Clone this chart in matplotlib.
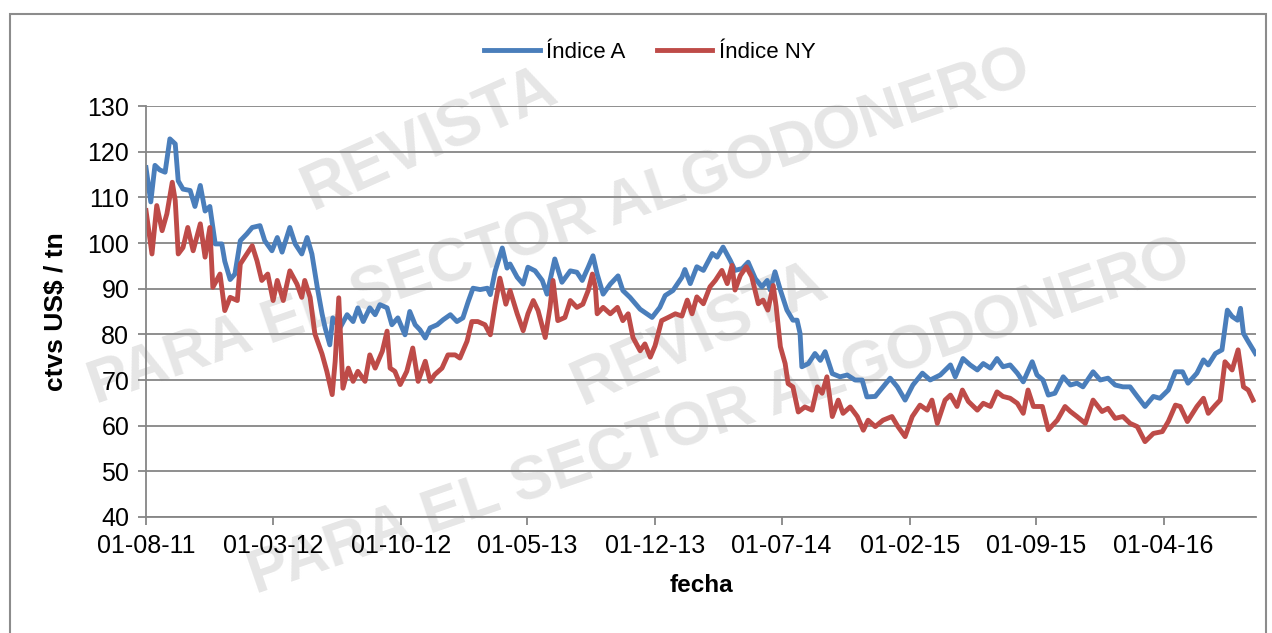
import numpy as np
import pandas as pd
import matplotlib
matplotlib.use('Agg')
from matplotlib import pyplot as plt
import matplotlib.dates as mdates
from matplotlib.patches import Rectangle

# dias desde 01-08-2011 y valores (ctvs US$ / tn)
dias_a = [0, 8, 15, 23, 32, 40, 49, 54, 62, 74, 82, 91, 99, 107, 116, 127, 132, 141, 149, 158,
          169, 178, 191, 199, 211, 220, 228, 241, 250, 261, 270, 278, 287, 295, 300, 308, 313, 325,
          337, 347, 355, 364, 375, 384, 392, 404, 412, 422, 434, 442, 451, 459, 468, 476, 488, 498,
          510, 521, 531, 540, 548, 560, 572, 577, 585, 597, 605, 610, 622, 632, 640, 652, 664, 672,
          685, 697, 711, 722, 731, 741, 749, 756, 766, 778, 791, 799, 811, 828, 848, 861, 870, 883,
          898, 903, 912, 923, 934, 949, 957, 967, 979, 987, 999, 1009, 1021, 1032, 1041, 1046, 1054,
          1063, 1074, 1084, 1091, 1096, 1099, 1110, 1121, 1130, 1138, 1150, 1163, 1175, 1188, 1200,
          1208, 1222, 1235, 1247, 1259, 1272, 1285, 1301, 1314, 1331, 1348, 1356, 1369, 1381, 1393,
          1403, 1415, 1426, 1436, 1448, 1460, 1470, 1485, 1493, 1503, 1512, 1523, 1537, 1549, 1560,
          1570, 1587, 1599, 1612, 1624, 1637, 1649, 1661, 1674, 1688, 1699, 1713, 1725, 1737, 1746,
          1761, 1772, 1780, 1792, 1803, 1812, 1820, 1829, 1834, 1839, 1847, 1859]
indice_a = [116.5, 109, 117, 116, 115.5, 122.8, 121.7, 113.6, 111.8, 111.5, 108, 112.6, 107, 108, 99.8,
            99.8, 96, 92, 93.2, 100.5, 102, 103.4, 103.8, 100.5, 98.3, 101.2, 98, 103.4, 99.8, 97.6,
            101.2, 97.6, 90.3, 84.5, 81.5, 77.7, 83.6, 81.4, 84.3, 82.8, 85.8, 82.8, 85.8, 84.3, 86.5,
            85.8, 82.1, 83.6, 79.9, 85, 82.1, 81, 79.2, 81.4, 82.1, 83.2, 84.3, 82.8, 83.6, 87.2, 90.1,
            89.8, 90.1, 88.7, 93.8, 98.9, 94.5, 95.4, 92.5, 91, 94.7, 93.9, 91.8, 88.8, 96.5, 91.4,
            93.9, 93.6, 91.8, 94.7, 97.2, 93.2, 88.8, 91, 92.8, 89.6, 88.1, 85.5, 83.7, 85.9, 88.5,
            89.6, 92.5, 94.2, 91.1, 94.8, 94, 97.7, 96.9, 99.1, 96.2, 94, 94.4, 95.8, 92.2, 90.4, 91.8,
            89.7, 93.7, 89.7, 85.3, 83.1, 83.1, 80.2, 72.9, 73.6, 75.8, 74.3, 76.2, 71.4, 70.7, 71.1,
            70, 70, 66.3, 66.4, 68.5, 70.4, 68.5, 65.6, 68.9, 71.5, 70, 71.1, 73.3, 70.7, 74.7, 73.3,
            72.2, 73.6, 72.6, 74.7, 72.9, 73.3, 71.5, 69.6, 74, 71.1, 70, 66.7, 67.1, 70.7, 68.9, 69.3,
            68.5, 71.8, 70, 70.4, 68.9, 68.5, 68.5, 66.4, 64.2, 66.4, 66, 67.8, 71.8, 71.8, 69.3, 71.5,
            74.4, 73.3, 75.8, 76.6, 85.3, 83.9, 83.1, 85.7, 80.2, 78.4, 75.8]

dias_ny = [0, 10, 18, 27, 35, 44, 49, 54, 62, 70, 79, 91, 99, 107, 112, 124, 132, 141, 153, 158,
           169, 178, 186, 194, 204, 213, 220, 230, 241, 253, 261, 266, 275, 283, 295, 303, 312, 317,
           323, 330, 339, 347, 355, 367, 375, 384, 396, 404, 409, 417, 426, 437, 447, 456, 468, 476,
           484, 496, 506, 518, 526, 538, 546, 556, 568, 577, 585, 593, 603, 610, 622, 632, 640, 649,
           657, 669, 677, 682, 690, 702, 711, 722, 732, 741, 748, 753, 756, 766, 778, 790, 799, 808,
           816, 828, 836, 845, 853, 864, 875, 887, 898, 907, 915, 923, 934, 945, 954, 965, 974, 982,
           987, 996, 1006, 1015, 1026, 1034, 1042, 1051, 1056, 1063, 1071, 1076, 1084, 1093, 1104,
           1116, 1125, 1133, 1141, 1150, 1160, 1168, 1180, 1192, 1202, 1210, 1222, 1235, 1250, 1260,
           1272, 1284, 1297, 1309, 1317, 1326, 1339, 1348, 1359, 1368, 1378, 1393, 1403, 1415, 1426,
           1436, 1448, 1460, 1470, 1478, 1487, 1502, 1512, 1527, 1540, 1549, 1560, 1574, 1587, 1602,
           1612, 1624, 1637, 1649, 1661, 1674, 1688, 1703, 1713, 1725, 1733, 1745, 1761, 1772, 1780,
           1792, 1800, 1808, 1820, 1830, 1839, 1847, 1855]
indice_ny = [107.1, 97.6, 108.2, 102.7, 106.4, 113.3, 109.3, 97.6, 99, 103.4, 98.3, 104.2, 96.9, 103.4,
             90.3, 93.2, 85.2, 88.1, 87.4, 95.4, 97.6, 99.4, 96.1, 91.8, 93.2, 87.4, 91.8, 87.4, 93.9,
             91, 88.1, 91.8, 88.1, 80.1, 75.7, 71.9, 66.8, 74.1, 88, 68.2, 72.6, 69.7, 71.9, 69.7, 75.5,
             72.6, 76.3, 80.7, 72.6, 71.9, 69, 71.9, 77, 69.7, 74.1, 69.7, 71.2, 72.6, 75.5, 75.5, 74.8,
             78.5, 82.8, 82.8, 82.1, 79.9, 86.5, 92.3, 86.6, 89.6, 84.5, 80.8, 84.5, 87.4, 85.2, 79.3,
             85.9, 91.8, 83, 83.7, 87.4, 85.9, 86.6, 89.6, 93.2, 90.3, 84.5, 85.9, 84.5, 85.9, 83, 84.5,
             79.3, 76.4, 77.9, 75, 77.5, 83, 83.7, 84.5, 84, 87.5, 84.5, 88.2, 86.7, 90.4, 91.8, 94,
             91.1, 95.1, 89.7, 92.9, 94.8, 92.6, 86.7, 87.5, 85.3, 90.7, 86, 77.3, 73.6, 69.2, 68.5,
             63, 64.1, 63.4, 68.5, 67.1, 70.7, 62, 65.6, 62.7, 64.1, 62, 59, 61.2, 59.8, 61.2, 62, 59.8,
             57.6, 62, 64.5, 63.4, 65.6, 60.5, 65.6, 66.7, 64.2, 67.8, 65.3, 63.4, 64.9, 64.2, 67.4,
             66.4, 66, 64.9, 62.7, 67.8, 64.2, 64.2, 59.1, 61.2, 64.2, 63.1, 62, 60.5, 65.6, 63.1, 63.8,
             61.6, 62, 60.5, 59.8, 56.5, 58.3, 58.7, 60.9, 64.5, 64.2, 60.9, 64.2, 66, 62.7, 64.5, 65.6,
             74, 72.2, 76.6, 68.5, 67.8, 65.6]

ticks_fecha = ['2011-08-01', '2012-03-01', '2012-10-01', '2013-05-01', '2013-12-01',
               '2014-07-01', '2015-02-01', '2015-09-01', '2016-04-01']

inicio = pd.Timestamp('2011-08-01')
fechas_a = inicio + pd.to_timedelta(dias_a, unit='D')
fechas_ny = inicio + pd.to_timedelta(dias_ny, unit='D')

plt.rcParams['font.family'] = ['Liberation Sans', 'DejaVu Sans']

fig = plt.figure(figsize=(12.72, 6.33), dpi=100)
ax = fig.add_axes([146/1272, 1-517/633, (1256-146)/1272, (517-106)/633])
ax.patch.set_alpha(0)

# marco del grafico
fig.patches.append(Rectangle((10/1272, -0.05), (1266-10)/1272, 1.05-14/633, transform=fig.transFigure,
                             fill=False, edgecolor='#8c8c8c', lw=1.5))

# marca de agua
wm = dict(color='#e6e6e6', fontweight='bold', ha='center', va='center', zorder=-1)
fig.text(430/1272, 1-140/633, 'REVISTA', fontsize=46, rotation=24, **wm)
fig.text(560/1272, 1-228/633, 'PARA EL SECTOR ALGODONERO', fontsize=44, rotation=19, **wm)
fig.text(700/1272, 1-335/633, 'REVISTA', fontsize=46, rotation=24, **wm)
fig.text(720/1272, 1-418/633, 'PARA EL SECTOR ALGODONERO', fontsize=44, rotation=19, **wm)

ax.plot(fechas_a, indice_a, color='#4a7ebb', lw=3.5, label='Índice A', solid_joinstyle='round')
ax.plot(fechas_ny, indice_ny, color='#be4b48', lw=3.5, label='Índice NY', solid_joinstyle='round')

ax.set_ylim(40, 130)
ax.set_yticks(np.arange(40, 131, 10))
ax.set_xlim(inicio, inicio + pd.Timedelta(days=1860))
ax.set_xticks(pd.to_datetime(ticks_fecha))
ax.xaxis.set_major_formatter(mdates.DateFormatter('%d-%m-%y'))
ax.grid(axis='y', color='#868686', lw=1.3)
ax.set_axisbelow(True)
for s in ['top', 'right']:
    ax.spines[s].set_visible(False)
for s in ['left', 'bottom']:
    ax.spines[s].set_color('#868686')
    ax.spines[s].set_linewidth(1.3)
ax.tick_params(axis='both', direction='out', length=6, width=1.3, color='#868686', labelsize=18, pad=6)

ax.set_xlabel('fecha', fontsize=17.5, fontweight='bold', labelpad=12)
ax.set_ylabel('ctvs US$ / tn', fontsize=19, fontweight='bold', labelpad=14)

fig.legend(loc='center', bbox_to_anchor=(650/1272, 1-52/633), ncol=2, frameon=False, fontsize=16,
           handlelength=2.5, columnspacing=1.4, handletextpad=0.3)

fig.savefig('out.png', dpi=100)
